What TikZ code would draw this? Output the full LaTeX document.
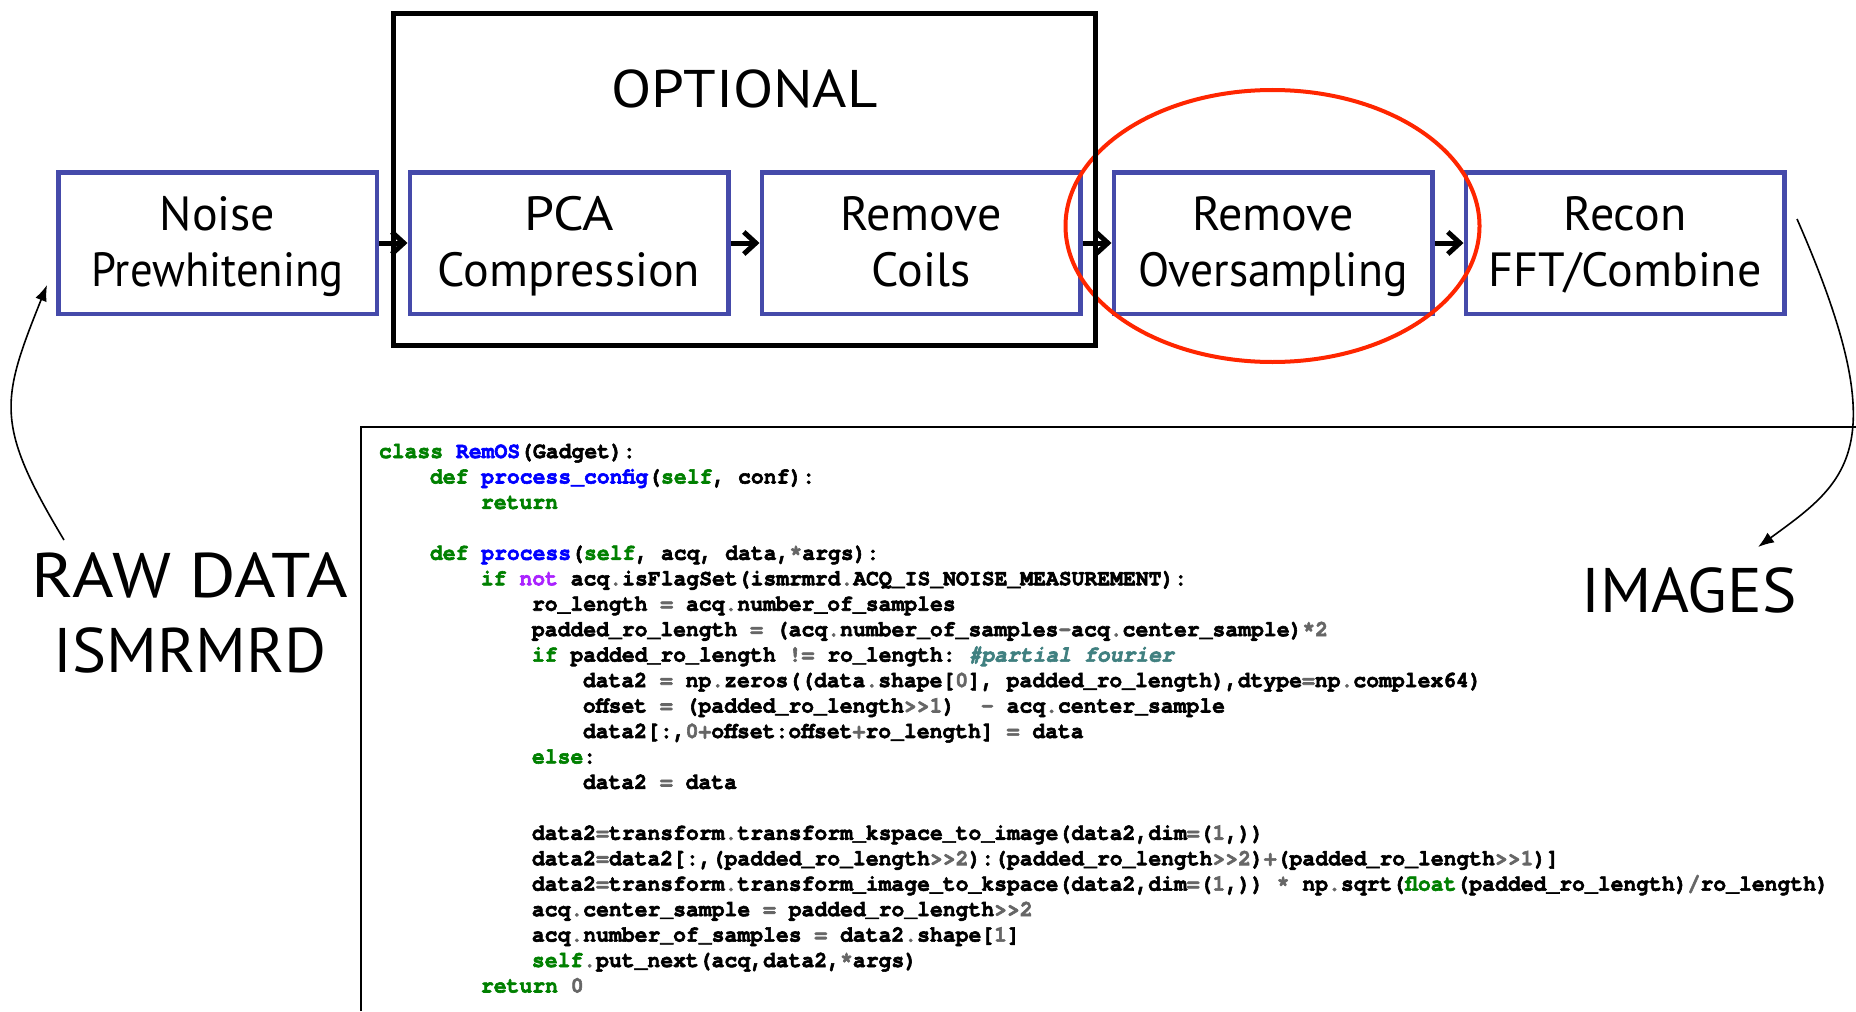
\documentclass[tikz,border=0pt]{standalone}
\usepackage{fontspec}
\setmainfont{PT Sans}
\newfontfamily\codefont{texgyrecursor}[Extension=.otf, UprightFont=*-regular, BoldFont=*-bold,
  ItalicFont=*-italic, BoldItalicFont=*-bolditalic, FakeStretch=0.947,
  BoldFeatures={FakeBold=2.6}, BoldItalicFeatures={FakeBold=2.6}]
\usetikzlibrary{arrows.meta}

\definecolor{stageblue}{RGB}{69,74,170}
\definecolor{markred}{RGB}{255,38,0}
\definecolor{pyggreen}{RGB}{0,128,0}
\definecolor{pygblue}{RGB}{0,0,255}
\definecolor{pyggray}{RGB}{102,102,102}
\definecolor{pygpurple}{RGB}{170,34,255}
\definecolor{pygteal}{RGB}{64,128,128}

% syntax highlighting helpers for the listing
\newcommand\cdkw[1]{\textcolor{pyggreen}{#1}}
\newcommand\cdfn[1]{\textcolor{pygblue}{#1}}
\newcommand\cdop[1]{\textcolor{pyggray}{#1}}
\newcommand\cdow[1]{\textcolor{pygpurple}{#1}}
\newcommand\cdcm[1]{\textcolor{pygteal}{\itshape #1}}
% horizontal fitting of a word, and a strut for the first label line
\newcommand\setw[2]{{\addfontfeatures{FakeStretch=#1}#2}}
\newcommand\stagetop{\rule{0pt}{20.5pt}}

\tikzset{
  stage/.style={draw=stageblue, line width=2.25pt, minimum width=159.25pt,
    minimum height=70.75pt, inner sep=0pt, align=center,
    font=\fontsize{24}{28}\selectfont},
  flow/.style={line width=2.5pt, -{Straight Barb[length=6pt,width=11pt]}},
  callout/.style={line width=0.8pt, -{Latex[length=8pt,width=6pt]}},
  bigtext/.style={inner sep=0pt, align=center, font=\fontsize{31.5}{37.5}\selectfont},
  code/.style={anchor=base west, inner sep=0pt,
    font=\codefont\bfseries\fontsize{11.3}{12.7}\selectfont\frenchspacing},
}

\begin{document}
\begin{tikzpicture}[x=0.5pt,y=-0.5pt]
\useasboundingbox (0,0) rectangle (1856,1011);
\fill[white] (0,0) rectangle (1856,1011);

% processing chain
\node[stage] (noise) at (217.5,243) {\stagetop Noise\\\setw{0.93}{Prewhitening}};
\node[stage] (pca)   at (569,243)   {\stagetop\setw{1.12}{PCA}\\Compression};
\node[stage] (coils) at (921,243)   {\stagetop Remove\\Coils\vphantom{g}};
\node[stage] (remos) at (1273,243)  {\stagetop Remove\\\setw{0.95}{Oversampling}};
\node[stage] (recon) at (1625,243)  {\stagetop Recon\\FFT/Combine\vphantom{g}};

% highlight of the current gadget
\draw[markred, line width=2pt] (1272.5,226) ellipse [x radius=207, y radius=136];

% optional group
\node[draw, line width=2.5pt, minimum width=351pt, minimum height=166pt, inner sep=0pt]
  (opt) at (744.5,179.5) {};
\node[inner sep=0pt, font=\fontsize{26.5}{30}\selectfont] (optlabel) at (744.5,88.5)
  {\setw{1.11}{OPTIONAL}};

\draw[flow] (noise) -- (pca);
\draw[flow] (pca) -- (coils);
\draw[flow] (coils) -- (remos);
\draw[flow] (remos) -- (recon);

% input and output
\node[bigtext] (raw) at (190,612.5) {\setw{1.13}{RAW DATA}\\\setw{1.02}{ISMRMRD}};
\node[bigtext] (images) at (1689,590) {\setw{1.03}{IMAGES}};

\coordinate (rawtail) at (64,540);
\coordinate (rawhead) at (47,285);
\coordinate (imgtail) at (1797,219);
\coordinate (imghead) at (1758,547);

% code panel
\draw[line width=1.25pt] (361,1011) -- (361,427) -- (1856,427);

\draw[callout] (rawtail) .. controls (-5.6,424) and (0.6,401) .. (rawhead);
\draw[callout] (imgtail) .. controls (1898,449) and (1847,482) .. (imghead);

\node[code] (l0)  at (378.5,458)    {\cdkw{class} \cdfn{RemOS}(Gadget):};
\node[code] (l1)  at (429.5,483.45) {\cdkw{def} \cdfn{process\_config}(\cdkw{self}, conf):};
\node[code] (l2)  at (480.5,508.9)  {\cdkw{return}};
\node[code] (l4)  at (429.5,559.8)  {\cdkw{def} \cdfn{process}(\cdkw{self}, acq, data,\cdop{*}args):};
\node[code] (l5)  at (480.5,585.25) {\cdkw{if} \cdow{not} acq\cdop{.}isFlagSet(ismrmrd\cdop{.}ACQ\_IS\_NOISE\_MEASUREMENT):};
\node[code] (l6)  at (531.5,610.7)  {ro\_length \cdop{=} acq\cdop{.}number\_of\_samples};
\node[code] (l7)  at (531.5,636.15) {padded\_ro\_length \cdop{=} (acq\cdop{.}number\_of\_samples\cdop{-}acq\cdop{.}center\_sample)\cdop{*2}};
\node[code] (l8)  at (531.5,661.6)  {\cdkw{if} padded\_ro\_length \cdop{!=} ro\_length: \cdcm{\#partial fourier}};
\node[code] (l9)  at (582.5,687.05) {data2 \cdop{=} np\cdop{.}zeros((data\cdop{.}shape[\cdop{0}], padded\_ro\_length),dtype\cdop{=}np\cdop{.}complex64)};
\node[code] (l10) at (582.5,712.5)  {offset \cdop{=} (padded\_ro\_length\cdop{>>1})\ \ \cdop{-} acq\cdop{.}center\_sample};
\node[code] (l11) at (582.5,737.95) {data2[:,\cdop{0+}offset:offset\cdop{+}ro\_length] \cdop{=} data};
\node[code] (l12) at (531.5,763.4)  {\cdkw{else}:};
\node[code] (l13) at (582.5,788.85) {data2 \cdop{=} data};
\node[code] (l15) at (531.5,839.75) {data2\cdop{=}transform\cdop{.}transform\_kspace\_to\_image(data2,dim\cdop{=}(\cdop{1},))};
\node[code] (l16) at (531.5,865.2)  {data2\cdop{=}data2[:,(padded\_ro\_length\cdop{>>2}):(padded\_ro\_length\cdop{>>2})\cdop{+}(padded\_ro\_length\cdop{>>1})]};
\node[code] (l17) at (531.5,890.65) {data2\cdop{=}transform\cdop{.}transform\_image\_to\_kspace(data2,dim\cdop{=}(\cdop{1},)) \cdop{*} np\cdop{.}sqrt(\cdkw{float}(padded\_ro\_length)\cdop{/}ro\_length)};
\node[code] (l18) at (531.5,916.1)  {acq\cdop{.}center\_sample \cdop{=} padded\_ro\_length\cdop{>>2}};
\node[code] (l19) at (531.5,941.55) {acq\cdop{.}number\_of\_samples \cdop{=} data2\cdop{.}shape[\cdop{1}]};
\node[code] (l20) at (531.5,967)    {\cdkw{self}\cdop{.}put\_next(acq,data2,\cdop{*}args)};
\node[code] (l21) at (480.5,992.45) {\cdkw{return} \cdop{0}};
\end{tikzpicture}
\end{document}
